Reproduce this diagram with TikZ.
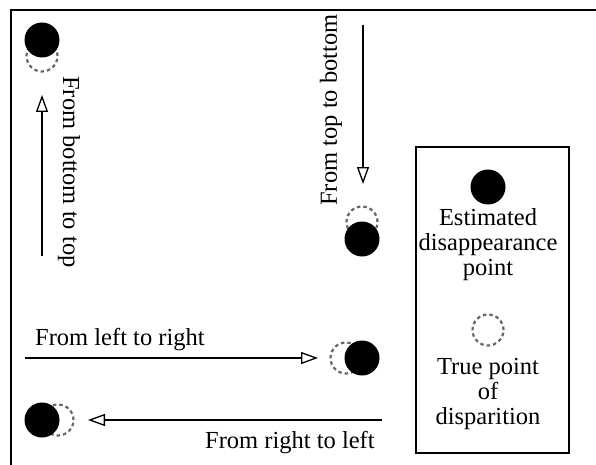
\documentclass[tikz,border=0pt]{standalone}
\usepackage{fontspec}
\setmainfont{Liberation Serif}
\usetikzlibrary{arrows.meta}
\tikzset{
  est/.style={circle, fill=black, minimum size=35pt, inner sep=0pt},
  truep/.style={circle, draw=black!60, dash pattern=on 3.5pt off 3pt, line width=2.2pt, minimum size=31pt, inner sep=0pt},
  motion/.style={line width=2.4pt, -{Triangle[open, length=17pt, width=12pt, line width=1.3pt]}},
  lbl/.style={font=\fontsize{24.5}{25}\selectfont, inner sep=0pt},
  legend/.style={lbl, align=center},
}
\begin{document}
\begin{tikzpicture}[x=1pt, y=-1pt]
\useasboundingbox (0,0) rectangle (596,465);
% frame
\draw[line width=1.8pt] (11,465) -- (11,10) -- (596,10);

% bottom to top
\node[truep] (t1) at (42,56) {};
\node[est] (e1) at (42,40) {};
\coordinate (s1) at (42,256);
\coordinate (f1) at (42,95);
\draw[motion] (s1) -- (f1);
\node[lbl, rotate=-90] (l1) at (69,172) {From bottom to top};

% top to bottom
\node[truep] (t2) at (362,222) {};
\node[est] (e2) at (362,239) {};
\coordinate (s2) at (363,25);
\coordinate (f2) at (363,184);
\draw[motion] (s2) -- (f2);
\node[lbl, rotate=90] (l2) at (331,110) {From top to bottom};

% left to right
\node[truep] (t3) at (346,358) {};
\node[est] (e3) at (362,358) {};
\coordinate (s3) at (25,358);
\coordinate (f3) at (318,358);
\draw[motion] (s3) -- (f3);
\node[lbl, anchor=base west] (l3) at (35,345) {From left to right};

% right to left
\node[truep] (t4) at (58,420) {};
\node[est] (e4) at (42,420) {};
\coordinate (s4) at (382,420);
\coordinate (f4) at (88,420);
\draw[motion] (s4) -- (f4);
\node[lbl, anchor=base west] (l4) at (205,448) {From right to left};

% legend
\node[draw, line width=1.4pt, minimum width=153pt, minimum height=306pt, inner sep=0pt] (box) at (492.5,300) {};
\node[est] (le) at (488,187) {};
\node[legend] (lt1) at (488,245) {Estimated\\disappearance\\point};
\node[truep] (lt) at (488,330) {};
\node[legend] (lt2) at (488,394) {True point\\of\\disparition};
\end{tikzpicture}
\end{document}
